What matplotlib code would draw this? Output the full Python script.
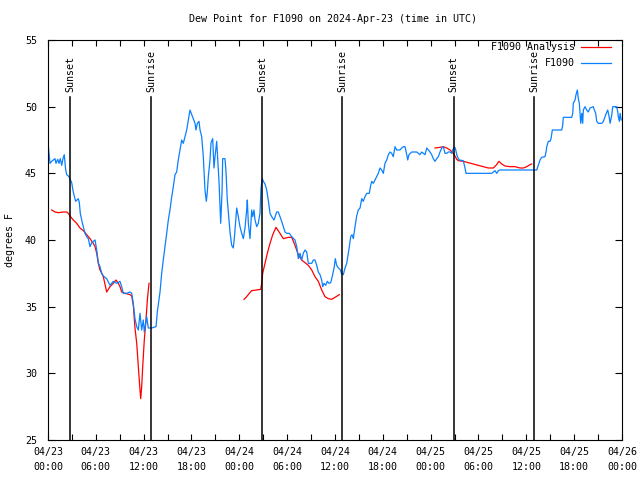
#!/usr/bin/env python3
"""Dew point chart for F1090, 2024-Apr-23 (gnuplot look-alike)"""
from datetime import datetime, timedelta
import numpy as np
import pandas as pd
import matplotlib
matplotlib.use('Agg')
import matplotlib.pyplot as plt

plt.rcParams['font.family'] = ['DejaVu Sans Mono']
plt.rcParams['font.size'] = 7.2

START = datetime(2024, 4, 23)

# F1090 observations: hours after 04/23 00:00 UTC, dew point (F)
obs_hours = [
    0.04, 0.25, 0.46, 0.66, 0.88, 1.00, 1.22, 1.38, 1.54, 1.72, 1.88, 2.04, 2.22, 2.35, 2.63,
    2.97, 3.17, 3.47, 3.80, 3.93, 4.05, 4.30, 4.64, 4.85, 5.06, 5.27, 5.48, 5.68, 5.90, 6.11,
    6.31, 6.52, 6.74, 6.94, 7.36, 7.78, 8.19, 8.62, 9.03, 9.24, 9.45, 9.87, 10.29, 10.50, 10.70,
    10.91, 11.13, 11.33, 11.54, 11.75, 11.95, 12.08, 12.38, 12.58, 13.01, 13.55, 13.71, 14.05,
    14.26, 14.46, 14.68, 14.89, 15.09, 15.30, 15.52, 15.72, 15.93, 16.14, 16.34, 16.56, 16.77,
    16.97, 17.19, 17.40, 17.60, 17.81, 18.03, 18.23, 18.44, 18.56, 18.73, 18.94, 19.07, 19.28,
    19.48, 19.69, 19.86, 19.98, 20.11, 20.32, 20.45, 20.66, 20.82, 20.95, 21.16, 21.29, 21.45,
    21.66, 21.83, 21.91, 22.20, 22.33, 22.49, 22.67, 22.83, 23.04, 23.24, 23.37, 23.58, 23.67,
    23.87, 24.08, 24.30, 24.50, 24.71, 24.92, 25.00, 25.13, 25.34, 25.55, 25.68, 25.84, 25.97,
    26.18, 26.38, 26.59, 26.72, 26.88, 27.01, 27.22, 27.43, 27.63, 27.85, 28.06, 28.35, 28.69,
    28.89, 29.10, 29.31, 29.52, 29.73, 29.94, 30.27, 30.57, 30.98, 31.20, 31.40, 31.61, 31.82,
    32.02, 32.24, 32.45, 32.65, 33.08, 33.28, 33.49, 33.71, 33.91, 34.12, 34.33, 34.46, 34.62,
    34.83, 35.04, 35.25, 35.46, 35.71, 35.91, 36.04, 36.21, 36.42, 36.63, 36.84, 37.04, 37.26,
    37.47, 37.67, 37.80, 37.97, 38.13, 38.30, 38.51, 38.72, 38.92, 39.14, 39.35, 39.55, 39.76,
    39.98, 40.30, 40.48, 40.61, 40.81, 41.02, 41.23, 41.43, 41.65, 41.86, 42.06, 42.27, 42.49,
    42.69, 42.90, 43.11, 43.31, 43.53, 43.74, 44.15, 44.37, 44.57, 44.78, 45.00, 45.12, 45.28,
    45.62, 46.25, 46.45, 46.66, 46.88, 47.08, 47.29, 47.51, 47.71, 47.92, 48.13, 48.33, 48.54,
    48.76, 48.96, 49.17, 49.39, 49.59, 49.80, 50.01, 50.21, 50.43, 50.64, 50.76, 50.93, 51.09,
    51.27, 51.47, 51.59, 52.09, 52.31, 52.43, 55.66, 55.86, 56.07, 56.29, 56.49, 56.70, 61.30,
    61.50, 61.72, 61.93, 62.34, 62.47, 62.56, 62.76, 62.97, 63.10, 63.26, 64.44, 64.56, 64.64,
    65.69, 65.82, 65.89, 66.11, 66.23, 66.40, 66.52, 66.65, 66.73, 66.82, 66.95, 67.07, 67.15,
    67.36, 67.57, 67.77, 67.99, 68.40, 68.53, 68.70, 68.83, 69.03, 69.46, 69.67, 69.87, 70.09,
    70.21, 70.38, 70.51, 70.72, 70.84, 71.34, 71.47, 71.54, 71.67, 71.76, 71.90,
]
obs_dewpt = [
    47.05, 45.75, 45.9, 46.0, 46.1, 45.75, 46.05, 45.75, 46.1, 45.6, 46.1, 46.4, 45.25, 44.9, 44.75,
    44.3, 43.6, 42.9, 43.1, 42.8, 42.0, 41.3, 40.5, 40.25, 40.1, 39.5, 39.8, 39.9, 40.0, 39.25,
    38.3, 38.0, 37.5, 37.3, 37.1, 36.6, 36.9, 36.75, 36.9, 36.5, 36.0, 36.0, 36.1, 36.0, 35.25,
    34.1, 33.5, 33.25, 34.5, 33.25, 34.0, 33.1, 34.25, 33.4, 33.4, 33.5, 34.6, 36.1,
    37.5, 38.5, 39.5, 40.5, 41.5, 42.25, 43.25, 44.0, 44.9, 45.1, 46.0, 46.75, 47.5,
    47.25, 47.75, 48.25, 49.0, 49.75, 49.4, 49.1, 48.75, 48.25, 48.75, 48.9, 48.25, 47.75,
    46.25, 43.75, 42.9, 43.6, 44.75, 46.0, 47.3, 47.6, 45.4, 46.25, 47.4, 46.1, 44.4,
    41.25, 43.6, 46.1, 46.1, 45.1, 43.0, 41.75, 40.6, 39.6, 39.4, 40.1, 41.75, 42.4,
    41.75, 41.0, 40.5, 40.1, 40.9, 42.25, 43.0, 41.25, 40.1, 42.25, 41.75, 42.25, 41.5,
    41.0, 41.25, 42.0, 43.9, 44.6, 44.4, 44.2, 43.75, 43.0, 42.0, 41.75, 41.5, 42.1,
    42.1, 41.75, 41.4, 41.0, 40.6, 40.5, 40.5, 40.25, 40.0, 39.5, 38.6, 39.0, 38.5,
    39.0, 39.25, 39.1, 38.25, 38.25, 38.5, 38.5, 38.1, 37.6, 37.4, 37.0, 36.5, 36.75,
    36.6, 36.9, 36.75, 36.8, 37.4, 38.0, 38.6, 38.1, 37.9, 37.8, 37.45, 37.4, 37.9,
    38.25, 39.0, 39.5, 40.25, 40.4, 40.1, 41.0, 41.8, 42.25, 42.4, 43.1, 42.9, 43.25,
    43.5, 43.5, 44.1, 44.4, 44.25, 44.5, 44.75, 45.0, 45.4, 45.25, 45.0, 45.75, 46.0,
    46.4, 46.6, 46.5, 46.25, 47.0, 46.75, 46.75, 46.9, 47.0, 47.0, 46.4, 46.0, 46.4,
    46.6, 46.6, 46.5, 46.4, 46.6, 46.5, 46.4, 46.9, 46.75, 46.6, 46.4, 46.1, 45.9,
    46.1, 46.25, 46.6, 46.9, 47.0, 46.5, 46.5, 46.6, 46.6, 46.5, 46.75, 46.95, 46.9,
    46.4, 46.1, 46.0, 45.95, 45.4, 45.0, 45.0, 45.1, 45.2, 45.0, 45.2, 45.25, 45.25,
    45.6, 46.0, 46.2, 46.25, 46.6, 47.0, 47.4, 47.4, 47.6, 48.25, 48.25, 48.6, 49.2,
    49.2, 49.5, 50.25, 50.5, 50.9, 51.25, 50.6, 50.25, 49.5, 48.75, 49.5, 48.75, 49.75,
    50.0, 49.75, 49.6, 49.9, 50.0, 49.75, 49.5, 48.9, 48.75, 48.75, 48.9, 49.25, 49.6,
    49.75, 49.25, 48.75, 49.4, 50.0, 50.0, 49.6, 49.25, 48.9, 49.5, 49.0,
]

# F1090 analysis, three runs (None = gap)
ana_hours = [
    0.46, 0.88, 1.29, 1.92, 2.35, 2.55, 2.76, 3.17, 3.60, 4.01, 4.43, 4.85, 5.27, 5.68, 5.90,
    6.11, 6.31, 6.52, 6.74, 6.94, 7.36, 7.78, 8.19, 8.53, 8.82, 9.03, 9.24, 9.66, 10.29, 10.50,
    10.70, 10.91, 11.13, 11.33, 11.54, 11.63, 11.75, 11.88, 12.08, 12.29, 12.46, 12.67,
    12.80,
    24.59, 24.92, 25.25, 25.55, 26.18, 26.68, 26.81, 26.93, 27.22, 27.51, 27.85, 28.19, 28.60,
    29.10, 29.52, 30.14, 30.57, 30.98, 31.40, 31.82, 32.24, 32.65, 33.08, 33.49, 33.91, 34.33,
    34.75, 35.16, 35.59, 36.00, 36.54,
    36.70,
    48.54, 49.17, 49.59, 50.01, 50.43, 50.84, 51.05, 51.27, 51.47, 52.09, 52.72, 53.35, 53.98,
    54.60, 55.23, 55.86, 56.20, 56.57, 56.91, 57.32, 57.95, 58.58, 59.21, 59.63, 60.05, 60.46,
    60.67,
]
ana_dewpt = [
    42.25, 42.1, 42.05, 42.1, 42.1, 42.0, 41.8, 41.5, 41.25, 40.9, 40.7, 40.4, 40.1, 39.75, 39.5,
    39.0, 38.25, 37.75, 37.5, 37.25, 36.1, 36.5, 36.75, 37.0, 36.75, 36.5, 36.1, 36.0, 35.9, 35.8,
    35.1, 33.4, 32.25, 30.5, 28.75, 28.1, 29.0, 30.5, 32.5, 34.0, 35.5, 36.75,
    None,
    35.55, 35.75, 36.0, 36.2, 36.25, 36.3, 36.75, 37.5, 38.25, 39.0, 39.75, 40.4, 40.95,
    40.5, 40.1, 40.2, 40.2, 39.6, 38.9, 38.5, 38.3, 38.1, 37.75, 37.25, 36.9, 36.25,
    35.75, 35.6, 35.55, 35.7, 35.9,
    None,
    46.9, 46.95, 47.0, 46.9, 46.75, 46.5, 46.3, 46.05, 45.95, 45.9, 45.8, 45.7, 45.6,
    45.5, 45.4, 45.4, 45.6, 45.9, 45.7, 45.55, 45.5, 45.5, 45.4, 45.4, 45.5, 45.65,
    45.7,
]

sun_events = ['2024-04-23 02:46', '2024-04-23 12:55', '2024-04-24 02:50',
              '2024-04-24 12:54', '2024-04-25 02:54', '2024-04-25 12:58']
sun_labels = ['Sunset', 'Sunrise', 'Sunset', 'Sunrise', 'Sunset', 'Sunrise']


def to_time(hours):
    return [START + timedelta(hours=h) for h in hours]


fig = plt.figure(figsize=(6.4, 4.8), dpi=100)
ax = fig.add_axes([48 / 640, 40 / 480, 574 / 640, 400 / 480])

ana_y = np.array([np.nan if v is None else v for v in ana_dewpt], dtype=float)
ax.plot(to_time(ana_hours), ana_y, color='#ff0000', lw=0.9, label='F1090 Analysis')
ax.plot(to_time(obs_hours), obs_dewpt, color='#0a80ff', lw=0.9, label='F1090')

for t, lab in zip(sun_events, sun_labels):
    ts = pd.Timestamp(t)
    ax.plot([ts, ts], [25, 50.7], color='black', lw=1.1)
    ax.text(ts, 51.1, lab, rotation=90, ha='center', va='bottom')

ax.set_xlim(START, START + timedelta(days=3))
ax.set_ylim(25, 55)

ticks = pd.date_range('2024-04-23', '2024-04-26', freq='6h')
ax.set_xticks(ticks)
ax.set_xticklabels([d.strftime('%m/%d\n%H:%M') for d in ticks], linespacing=1.6)
ax.set_xticks(pd.date_range('2024-04-23', '2024-04-26', freq='3h'), minor=True)
ax.set_yticks(range(25, 56, 5))
ax.tick_params(axis='both', which='both', direction='in', top=True, right=True, width=0.8)
ax.tick_params(axis='x', which='both', length=4, pad=5)
ax.tick_params(axis='y', length=5, pad=8)
for s in ax.spines.values():
    s.set_linewidth(0.8)

ax.set_ylabel('degrees F')
ax.yaxis.set_label_coords(-33 / 574, 0.5)
fig.text(333 / 640, 1 - 19 / 480, 'Dew Point for F1090 on 2024-Apr-23 (time in UTC)',
         ha='center', va='center')

ax.legend(loc='upper right', bbox_to_anchor=(611 / 640, 1 - 42 / 480),
          bbox_transform=fig.transFigure, frameon=False, markerfirst=False,
          handlelength=3.0, handletextpad=0.6, labelspacing=0.6, borderpad=0,
          borderaxespad=0)

fig.savefig('out.png', dpi=100)
